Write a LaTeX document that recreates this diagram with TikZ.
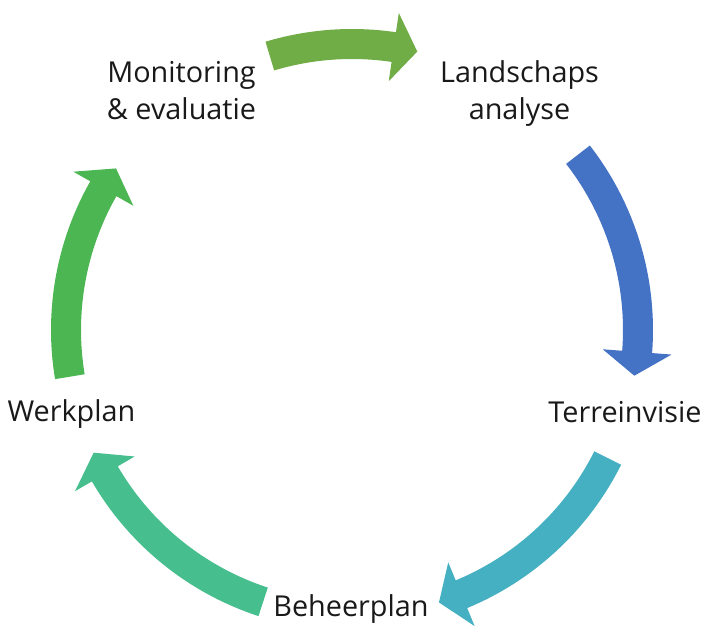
\documentclass[tikz,border=0pt]{standalone}
\usepackage{fontspec}
\setmainfont{Open Sans}
\definecolor{cA}{HTML}{70AD47}
\definecolor{cB}{HTML}{4472C4}
\definecolor{cC}{HTML}{45B0C1}
\definecolor{cD}{HTML}{46BE8E}
\definecolor{cE}{HTML}{4CB652}
\tikzset{
  lbl/.style={font=\fontsize{28.8}{37}\selectfont, align=center, anchor=base, inner sep=0pt, text=black!90},
}
% #1 tail angle, #2 tip angle, #3 colour
\newcommand{\cyclearrow}[3]{%
  \pgfmathsetmacro{\hb}{#2+4.8}%
  \fill[#3] (#1:301) arc[start angle=#1, end angle=\hb, radius=301]
     -- (\hb:320.5) -- (#2:286) -- (\hb:251.5) -- (\hb:271)
     arc[start angle=\hb, end angle=#1, radius=271] -- cycle;}
\begin{document}
\begin{tikzpicture}[x=1pt,y=1pt]
\useasboundingbox (0,0) rectangle (705,629);
\coordinate (C) at (352,299);
\node[lbl] (mon) at (181.5,509) {Monitoring\\\& evaluatie};
\node[lbl] (land) at (519.5,509) {Landschaps\\analyse};
\node[lbl] (terr) at (625,206) {Terreinvisie};
\node[lbl] (behe) at (351,12) {Beheerplan};
\node[lbl] (werk) at (71.5,207) {Werkplan};
\begin{scope}[shift={(C)}]
\cyclearrow{106.7}{76.8}{cA}
\cyclearrow{37.8}{-9.2}{cB}
\cyclearrow{-26.6}{-72.3}{cC}
\cyclearrow{-108.1}{-154.6}{cD}
\cyclearrow{-170.6}{-214.4}{cE}
\end{scope}
\end{tikzpicture}
\end{document}
